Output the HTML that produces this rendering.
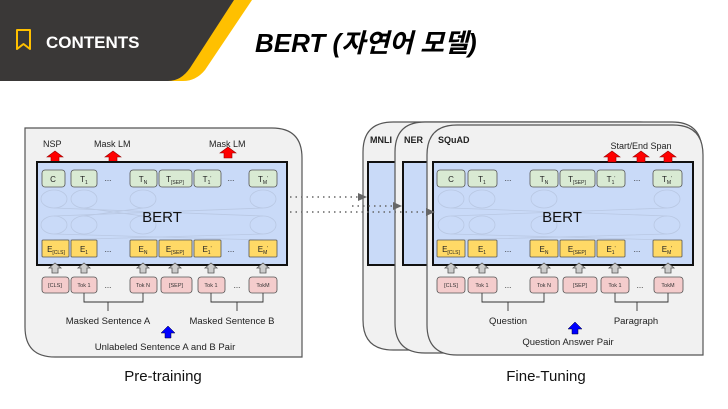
<!DOCTYPE html>
<html><head><meta charset="utf-8"><style>
html,body{margin:0;padding:0;background:#fff;}
svg{display:block;font-family:"Liberation Sans",Arial,sans-serif;}
</style></head><body>
<svg width="728" height="409" viewBox="0 0 728 409" xmlns="http://www.w3.org/2000/svg">
<!-- header -->
<path d="M0 0 H252 L205 70 Q196 81 183 81 H0 Z" fill="#ffc000"/>
<path d="M0 0 H234 L190 68 Q181 81 168 81 H0 Z" fill="#3a3837"/>
<path d="M17 30 h13 v19 l-6.5 -5 l-6.5 5 Z" fill="none" stroke="#ffc000" stroke-width="2" stroke-linejoin="round"/>
<text x="46" y="48" fill="#fff" font-size="17" font-weight="bold">CONTENTS</text>
<text x="255" y="52" font-size="26" font-weight="bold" font-style="italic" font-family="'Liberation Sans','Noto Sans CJK KR',sans-serif">BERT (자연어 모델)</text>

<!-- ===== Pre-training ===== -->
<path d="M25 128 H272 Q302 128 302 158 V357 H55 Q25 357 25 327 Z" fill="#f1f1f1" stroke="#555" stroke-width="1.2"/>
<g font-size="9" fill="#222">
<text x="43" y="147">NSP</text><text x="94" y="147">Mask LM</text><text x="209" y="147">Mask LM</text>
</g>
<g fill="#f00" stroke="#900" stroke-width="0.6">
<polygon points="51,162 59,162 59,157 63,157 55,151 47,157 51,157"/>
<polygon points="109,162 117,162 117,157 121,157 113,151 105,157 109,157"/>
<polygon points="224,158 232,158 232,153 236,153 228,147 220,153 224,153"/>
</g>
<rect x="37" y="162" width="250" height="103" fill="#c9daf8" stroke="#111" stroke-width="2"/>
<g fill="none" stroke="#b9c8e3" stroke-width="0.8">
<ellipse cx="54" cy="199" rx="13" ry="9"/><ellipse cx="84" cy="199" rx="13" ry="9"/><ellipse cx="143" cy="199" rx="13" ry="9"/><ellipse cx="263" cy="199" rx="13" ry="9"/>
<ellipse cx="54" cy="225" rx="13" ry="9"/><ellipse cx="84" cy="225" rx="13" ry="9"/><ellipse cx="143" cy="225" rx="13" ry="9"/><ellipse cx="263" cy="225" rx="13" ry="9"/>
<path d="M54 208 L263 216 M54 216 L263 208 M84 208 L143 216 M143 208 L84 216 M54 234 L263 240 M263 234 L54 240"/>
</g>
<text x="162" y="222" font-size="15" text-anchor="middle" fill="#111">BERT</text>
<g stroke="#555" stroke-width="0.8">
<g fill="#d9ead3">
<rect x="42" y="170" width="23" height="17" rx="3"/><rect x="71" y="170" width="26" height="17" rx="3"/><rect x="130" y="170" width="27" height="17" rx="3"/><rect x="159" y="170" width="33" height="17" rx="3"/><rect x="194" y="170" width="27" height="17" rx="3"/><rect x="249" y="170" width="28" height="17" rx="3"/>
</g>
<g fill="#ffd966">
<rect x="42" y="240" width="27" height="17" rx="1"/><rect x="71" y="240" width="26" height="17" rx="1"/><rect x="130" y="240" width="27" height="17" rx="1"/><rect x="159" y="240" width="33" height="17" rx="1"/><rect x="194" y="240" width="27" height="17" rx="1"/><rect x="249" y="240" width="28" height="17" rx="1"/>
</g>
<g fill="#f4cccc">
<rect x="42" y="277" width="27" height="16" rx="3"/><rect x="71" y="277" width="26" height="16" rx="3"/><rect x="130" y="277" width="27" height="16" rx="3"/><rect x="161" y="277" width="31" height="16" rx="3"/><rect x="198" y="277" width="27" height="16" rx="3"/><rect x="249" y="277" width="28" height="16" rx="3"/>
</g>
<g fill="#ccc">
<polygon points="52,273 58,273 58,268 61,268 55,263 49,268 52,268"/><polygon points="81,273 87,273 87,268 90,268 84,263 78,268 81,268"/><polygon points="140,273 146,273 146,268 149,268 143,263 137,268 140,268"/><polygon points="172,273 178,273 178,268 181,268 175,263 169,268 172,268"/><polygon points="208,273 214,273 214,268 217,268 211,263 205,268 208,268"/><polygon points="260,273 266,273 266,268 269,268 263,263 257,268 260,268"/>
</g>
</g>
<g font-size="8" fill="#222" text-anchor="middle">
<text x="53" y="182">C</text><text x="84" y="182">T<tspan font-size="5" dy="2">1</tspan></text><text x="143" y="182">T<tspan font-size="5" dy="2">N</tspan></text><text x="175" y="182">T<tspan font-size="5" dy="2">[SEP]</tspan></text><text x="207" y="182">T<tspan font-size="5" dy="2">1</tspan><tspan font-size="5" dy="-4">'</tspan></text><text x="263" y="182">T<tspan font-size="5" dy="2">M</tspan><tspan font-size="5" dy="-4">'</tspan></text>
<text x="56" y="252">E<tspan font-size="5" dy="2">[CLS]</tspan></text><text x="84" y="252">E<tspan font-size="5" dy="2">1</tspan></text><text x="143" y="252">E<tspan font-size="5" dy="2">N</tspan></text><text x="175" y="252">E<tspan font-size="5" dy="2">[SEP]</tspan></text><text x="207" y="252">E<tspan font-size="5" dy="2">1</tspan><tspan font-size="5" dy="-4">'</tspan></text><text x="263" y="252">E<tspan font-size="5" dy="2">M</tspan><tspan font-size="5" dy="-4">'</tspan></text>
<text x="108" y="181">...</text><text x="231" y="181">...</text><text x="108" y="252">...</text><text x="231" y="252">...</text><text x="108" y="288">...</text><text x="237" y="288">...</text>
</g>
<g font-size="5.5" fill="#333" text-anchor="middle">
<text x="55" y="287">[CLS]</text><text x="84" y="287">Tok 1</text><text x="143" y="287">Tok N</text><text x="176" y="287">[SEP]</text><text x="211" y="287">Tok 1</text><text x="263" y="287">TokM</text>
</g>
<g stroke="#333" stroke-width="0.9" fill="none">
<path d="M84 293 V302 H143 V293 M108 302 V311"/><path d="M211 293 V302 H263 V293 M237 302 V311"/>
</g>
<g font-size="9.5" fill="#222" text-anchor="middle">
<text x="108" y="324">Masked Sentence A</text><text x="232" y="324">Masked Sentence B</text><text x="165" y="350">Unlabeled Sentence A and B Pair</text>
</g>
<polygon points="165,338 171,338 171,333 175,333 168,326 161,333 165,333" fill="#00f" stroke="#003" stroke-width="0.5"/>
<text x="163" y="381" font-size="15" text-anchor="middle" fill="#111">Pre-training</text>

<!-- ===== Fine-tuning ===== -->
<path d="M363 152 Q363 122 393 122 H640 Q670 122 670 152 V350 H393 Q363 350 363 320 Z" fill="#f1f1f1" stroke="#555" stroke-width="1.2"/>
<rect x="368" y="162" width="40" height="103" fill="#c9daf8" stroke="#111" stroke-width="2"/>
<path d="M395 152 Q395 122 425 122 H672 Q702 122 702 152 V353 H425 Q395 353 395 323 Z" fill="#f1f1f1" stroke="#555" stroke-width="1.2"/>
<rect x="403" y="162" width="40" height="103" fill="#c9daf8" stroke="#111" stroke-width="2"/>
<path d="M427 155 Q427 125 457 125 H673 Q703 125 703 155 V355 H457 Q427 355 427 325 Z" fill="#f1f1f1" stroke="#555" stroke-width="1.2"/>
<g font-size="9" font-weight="bold" fill="#222">
<text x="370" y="143">MNLI</text><text x="404" y="143">NER</text><text x="438" y="143">SQuAD</text>
</g>
<text x="641" y="149" font-size="9" text-anchor="middle" fill="#222">Start/End Span</text>
<rect x="433" y="162" width="260" height="103" fill="#c9daf8" stroke="#111" stroke-width="2"/>
<g fill="#f00" stroke="#900" stroke-width="0.6">
<polygon points="608,162 616,162 616,157 620,157 612,151 604,157 608,157"/>
<polygon points="637,162 645,162 645,157 649,157 641,151 633,157 637,157"/>
<polygon points="664,162 672,162 672,157 676,157 668,151 660,157 664,157"/>
</g>
<g fill="none" stroke="#b9c8e3" stroke-width="0.8">
<ellipse cx="451" cy="199" rx="13" ry="9"/><ellipse cx="482" cy="199" rx="13" ry="9"/><ellipse cx="544" cy="199" rx="13" ry="9"/><ellipse cx="667" cy="199" rx="13" ry="9"/>
<ellipse cx="451" cy="225" rx="13" ry="9"/><ellipse cx="482" cy="225" rx="13" ry="9"/><ellipse cx="544" cy="225" rx="13" ry="9"/><ellipse cx="667" cy="225" rx="13" ry="9"/>
<path d="M451 208 L667 216 M451 216 L667 208 M451 234 L667 240 M667 234 L451 240"/>
</g>
<text x="562" y="222" font-size="15" text-anchor="middle" fill="#111">BERT</text>
<g stroke="#555" stroke-width="0.8">
<g fill="#d9ead3">
<rect x="437" y="170" width="28" height="17" rx="3"/><rect x="468" y="170" width="29" height="17" rx="3"/><rect x="530" y="170" width="28" height="17" rx="3"/><rect x="560" y="170" width="35" height="17" rx="3"/><rect x="597" y="170" width="28" height="17" rx="3"/><rect x="653" y="170" width="29" height="17" rx="3"/>
</g>
<g fill="#ffd966">
<rect x="437" y="240" width="28" height="17" rx="1"/><rect x="468" y="240" width="29" height="17" rx="1"/><rect x="530" y="240" width="28" height="17" rx="1"/><rect x="560" y="240" width="35" height="17" rx="1"/><rect x="597" y="240" width="28" height="17" rx="1"/><rect x="653" y="240" width="29" height="17" rx="1"/>
</g>
<g fill="#f4cccc">
<rect x="437" y="277" width="28" height="16" rx="3"/><rect x="468" y="277" width="29" height="16" rx="3"/><rect x="530" y="277" width="28" height="16" rx="3"/><rect x="563" y="277" width="34" height="16" rx="3"/><rect x="601" y="277" width="28" height="16" rx="3"/><rect x="654" y="277" width="29" height="16" rx="3"/>
</g>
<g fill="#ccc">
<polygon points="448,273 454,273 454,268 457,268 451,263 445,268 448,268"/><polygon points="479,273 485,273 485,268 488,268 482,263 476,268 479,268"/><polygon points="541,273 547,273 547,268 550,268 544,263 538,268 541,268"/><polygon points="576,273 582,273 582,268 585,268 579,263 573,268 576,268"/><polygon points="612,273 618,273 618,268 621,268 615,263 609,268 612,268"/><polygon points="665,273 671,273 671,268 674,268 668,263 662,268 665,268"/>
</g>
</g>
<g font-size="8" fill="#222" text-anchor="middle">
<text x="451" y="182">C</text><text x="482" y="182">T<tspan font-size="5" dy="2">1</tspan></text><text x="544" y="182">T<tspan font-size="5" dy="2">N</tspan></text><text x="577" y="182">T<tspan font-size="5" dy="2">[SEP]</tspan></text><text x="611" y="182">T<tspan font-size="5" dy="2">1</tspan><tspan font-size="5" dy="-4">'</tspan></text><text x="667" y="182">T<tspan font-size="5" dy="2">M</tspan><tspan font-size="5" dy="-4">'</tspan></text>
<text x="451" y="252">E<tspan font-size="5" dy="2">[CLS]</tspan></text><text x="482" y="252">E<tspan font-size="5" dy="2">1</tspan></text><text x="544" y="252">E<tspan font-size="5" dy="2">N</tspan></text><text x="577" y="252">E<tspan font-size="5" dy="2">[SEP]</tspan></text><text x="611" y="252">E<tspan font-size="5" dy="2">1</tspan><tspan font-size="5" dy="-4">'</tspan></text><text x="667" y="252">E<tspan font-size="5" dy="2">M</tspan><tspan font-size="5" dy="-4">'</tspan></text>
<text x="508" y="181">...</text><text x="637" y="181">...</text><text x="508" y="252">...</text><text x="637" y="252">...</text><text x="508" y="288">...</text><text x="640" y="288">...</text>
</g>
<g font-size="5.5" fill="#333" text-anchor="middle">
<text x="451" y="287">[CLS]</text><text x="482" y="287">Tok 1</text><text x="544" y="287">Tok N</text><text x="580" y="287">[SEP]</text><text x="615" y="287">Tok 1</text><text x="668" y="287">TokM</text>
</g>
<g stroke="#333" stroke-width="0.9" fill="none">
<path d="M482 293 V302 H544 V293 M508 302 V311"/><path d="M615 293 V302 H668 V293 M637 302 V311"/>
</g>
<g font-size="9.5" fill="#222" text-anchor="middle">
<text x="508" y="324">Question</text><text x="636" y="324">Paragraph</text><text x="568" y="345">Question Answer Pair</text>
</g>
<polygon points="572,334 578,334 578,329 582,329 575,322 568,329 572,329" fill="#00f" stroke="#003" stroke-width="0.5"/>
<text x="546" y="381" font-size="15" text-anchor="middle" fill="#111">Fine-Tuning</text>

<!-- dotted arrows (on top) -->
<g stroke="#666" stroke-width="1.6" stroke-dasharray="1.5,4" fill="none">
<path d="M290 197 H358"/><path d="M352 206 H395"/><path d="M290 212 H428"/>
</g>
<polygon points="358,193 367,197 358,201" fill="#666"/>
<polygon points="393,202 402,206 393,210" fill="#666"/>
<polygon points="426,208 435,212 426,216" fill="#666"/>
</svg>
</body></html>
